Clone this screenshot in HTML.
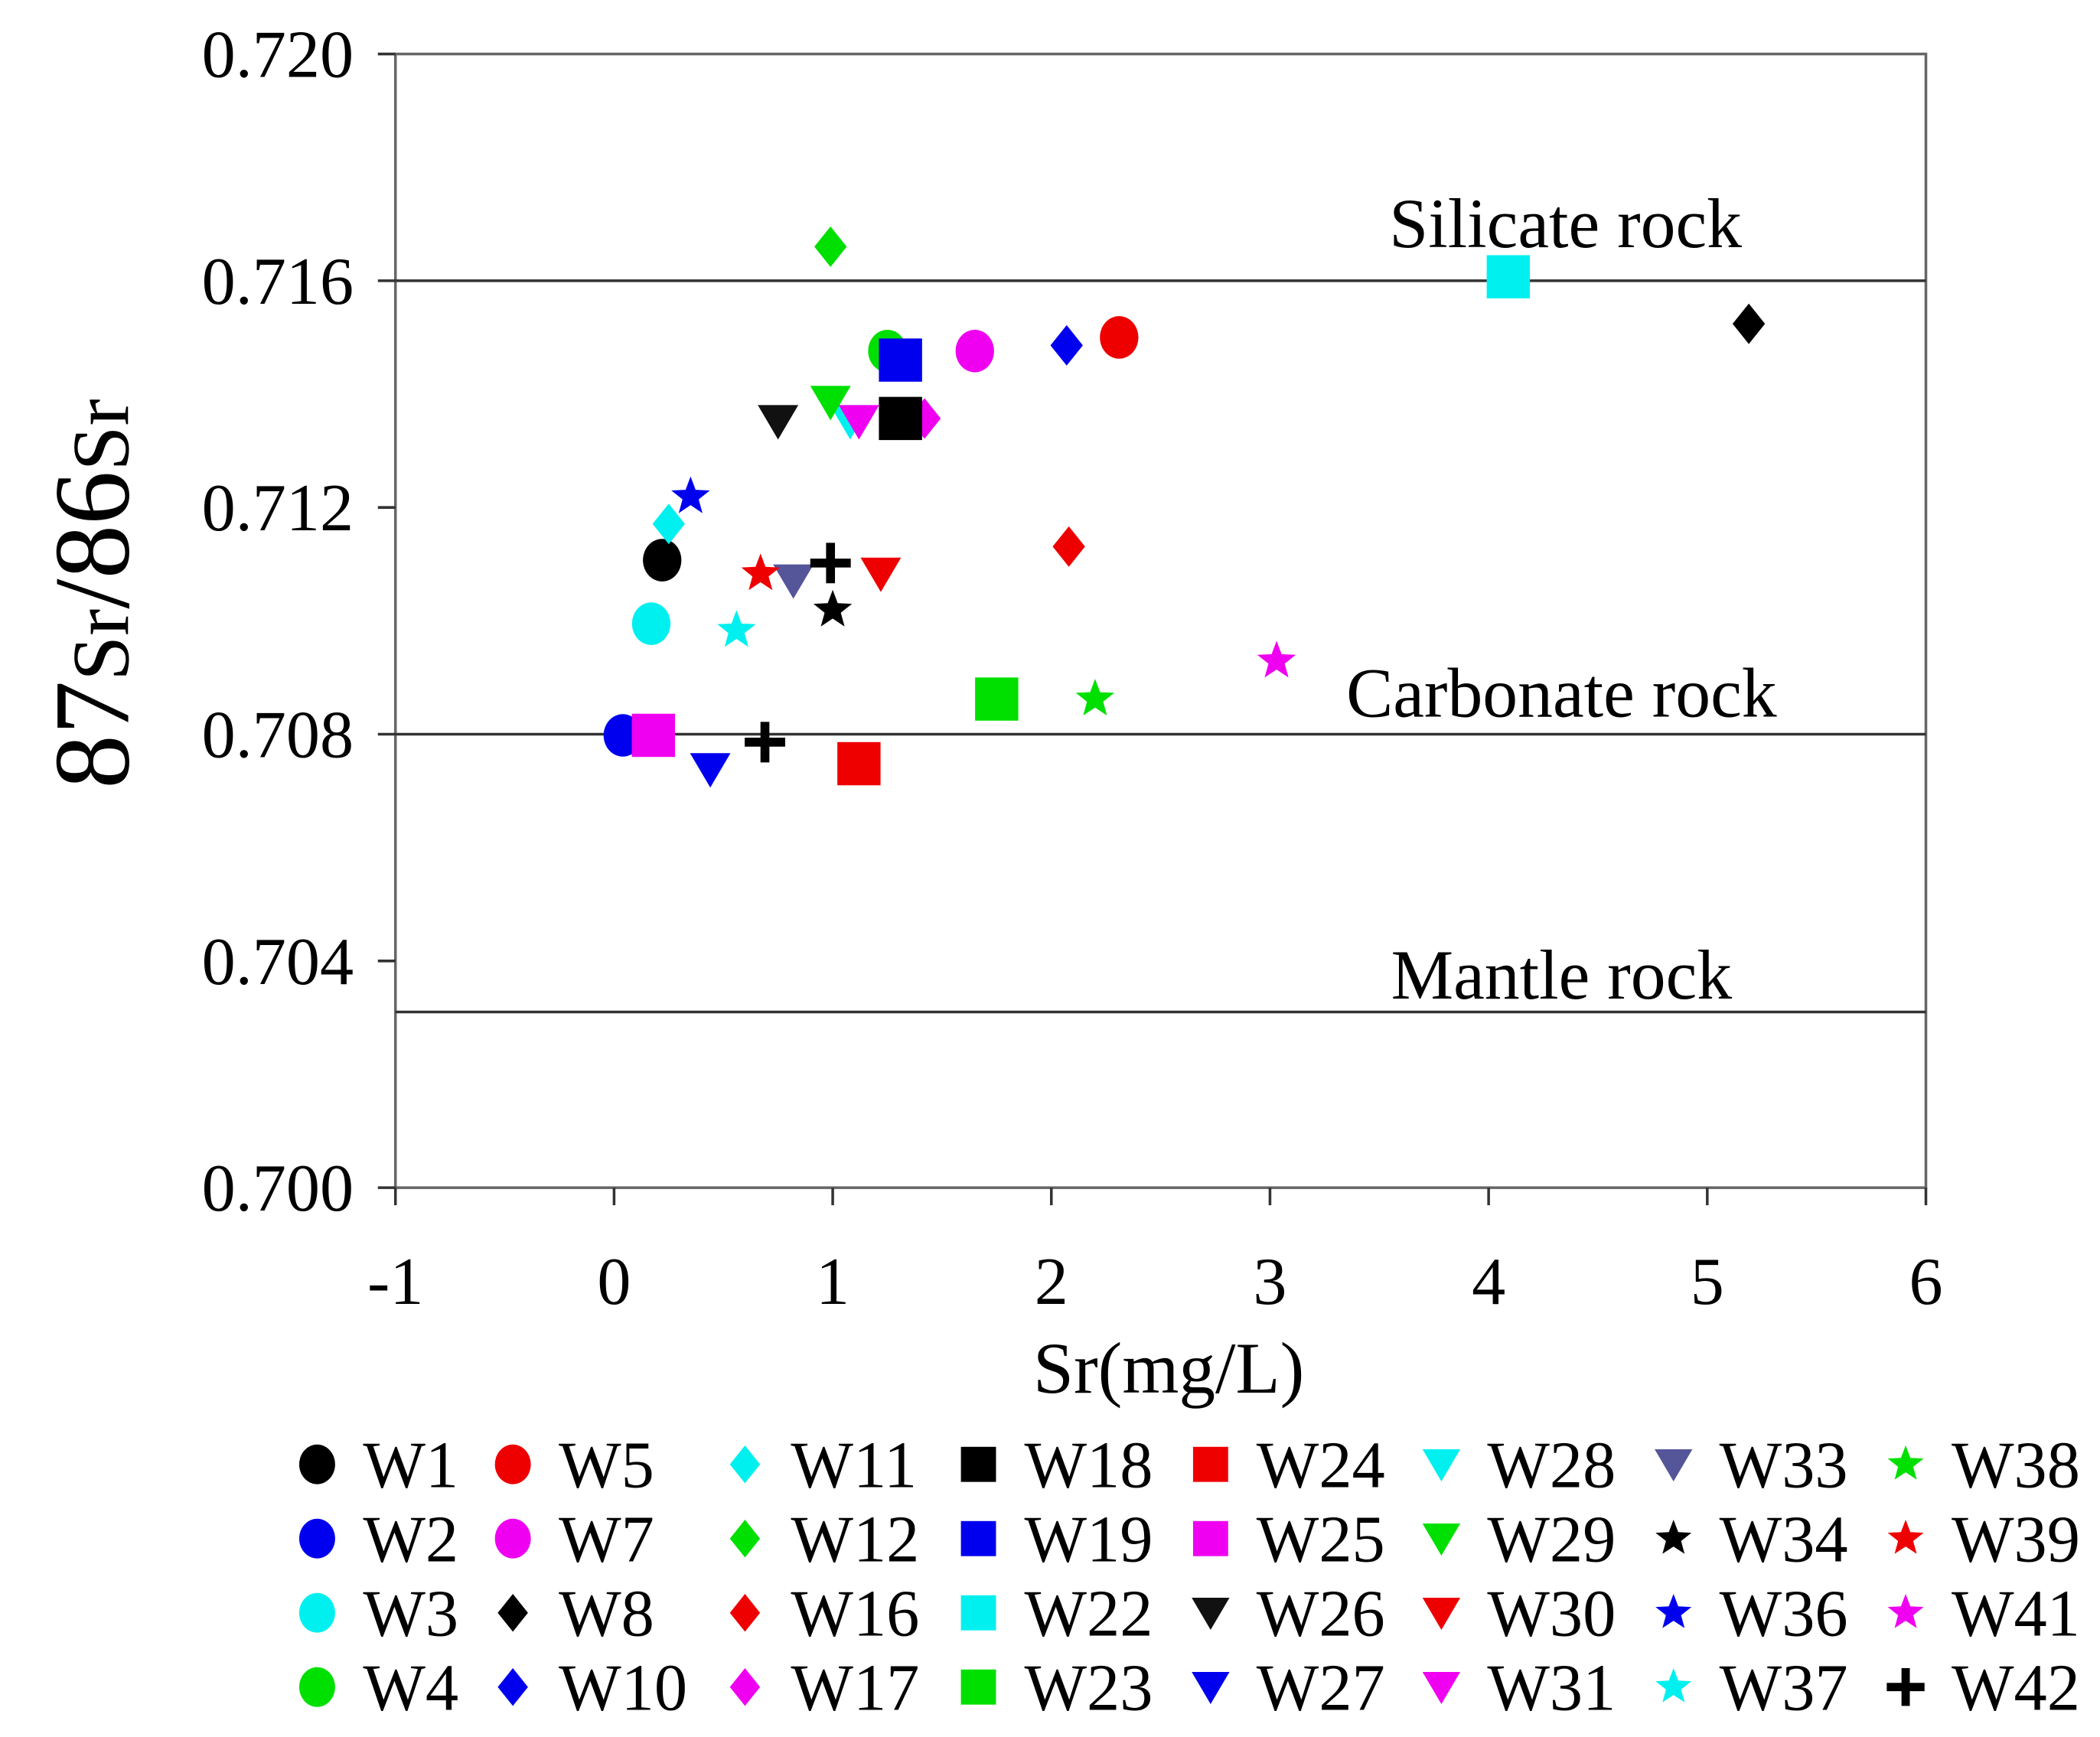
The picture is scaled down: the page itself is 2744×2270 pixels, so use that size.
<!DOCTYPE html>
<html><head><meta charset="utf-8"><style>
html,body{margin:0;padding:0;background:#fff;}
svg{display:block;font-family:"Liberation Serif",serif;}
</style></head><body>
<svg id="chart" width="2744" height="2270" viewBox="0 0 1556 1287" preserveAspectRatio="none" xmlns="http://www.w3.org/2000/svg">
<g id="axes"></g>
<g id="marks"></g>
<g id="legend"></g>
</svg>
<script>
const xTicks = [-1,0,1,2,3,4,5,6];
const yTicks = [0.700,0.704,0.708,0.712,0.716,0.720];
const yTickLabels = ["0.700","0.704","0.708","0.712","0.716","0.720"];
const refValues = [0.716,0.708,0.7031];
const refLabels = ["Silicate rock","Carbonate rock","Mantle rock"];
const seriesNames = ["W1","W2","W3","W4","W5","W7","W8","W10","W11","W12","W16","W17","W18","W19","W22","W23","W24","W25","W26","W27","W28","W29","W30","W31","W33","W34","W36","W37","W38","W39","W41","W42","W42"];
const seriesX = [0.22,0.04,0.17,1.25,2.31,1.65,5.19,2.07,0.25,0.99,2.08,1.42,1.31,1.31,4.09,1.75,1.12,0.18,0.75,0.44,1.08,0.99,1.22,1.12,0.82,1.00,0.35,0.56,2.20,0.67,3.03,0.69,0.99];
const seriesY = [0.71107,0.70798,0.70995,0.71476,0.7150,0.71476,0.71524,0.71486,0.71171,0.71660,0.71131,0.71357,0.71357,0.71460,0.71607,0.70862,0.70748,0.70798,0.71352,0.70738,0.71352,0.71386,0.71083,0.71352,0.71071,0.71019,0.71219,0.70983,0.70862,0.71083,0.70929,0.70786,0.71102];
const seriesShape = ["circle","circle","circle","circle","circle","circle","diamond","diamond","diamond","diamond","diamond","diamond","square","square","square","square","square","square","tri","tri","tri","tri","tri","tri","tri","star","star","star","star","star","star","cross","cross"];
const seriesColor = ["#000","#0000ee","#00f0f0","#00e000","#ee0000","#f000f0","#000","#0000ee","#00f0f0","#00e000","#ee0000","#f000f0","#000","#0000ee","#00f0f0","#00e000","#ee0000","#f000f0","#111","#0000ee","#00f0f0","#00e000","#ee0000","#f000f0","#555599","#000","#0000ee","#00f0f0","#00e000","#ee0000","#f000f0","#000","#000"];
const legendNames = ["W1","W2","W3","W4","W5","W7","W8","W10","W11","W12","W16","W17","W18","W19","W22","W23","W24","W25","W26","W27","W28","W29","W30","W31","W33","W34","W36","W37","W38","W39","W41","W42"];

const NS="http://www.w3.org/2000/svg";
const L=293,R=1427,T=40,B=880;
const xs=v=>L+(v+1)/7*(R-L);
const ys=v=>B-(v-0.700)/0.020*(B-T);
function el(tag,attrs,parent,text){const e=document.createElementNS(NS,tag);for(const k in attrs)e.setAttribute(k,attrs[k]);if(text!==undefined)e.textContent=text;parent.appendChild(e);return e;}
function shape(type,cx,cy,s,color,parent){
  const h=s/2;
  if(type==="circle")return el("ellipse",{cx:cx,cy:cy,rx:h*0.95,ry:h*1.05,fill:color},parent);
  if(type==="square")return el("rect",{x:cx-h,y:cy-h,width:s,height:s,fill:color},parent);
  if(type==="diamond")return el("polygon",{points:`${cx},${cy-h} ${cx+h*0.8},${cy} ${cx},${cy+h} ${cx-h*0.8},${cy}`,fill:color},parent);
  if(type==="tri")return el("polygon",{points:`${cx-h},${cy-h*0.8} ${cx+h},${cy-h*0.8} ${cx},${cy+h*0.9}`,fill:color},parent);
  if(type==="star"){let p=[];for(let i=0;i<10;i++){const r=i%2?h*0.42:h;const a=-Math.PI/2+i*Math.PI/5;p.push((cx+r*Math.cos(a)).toFixed(1)+","+(cy+r*Math.sin(a)).toFixed(1));}return el("polygon",{points:p.join(" "),fill:color},parent);}
  if(type==="cross"){const w=s*0.22;return el("path",{d:`M${cx-w/2},${cy-h}h${w}v${h-w/2}h${h-w/2}v${w}h${-(h-w/2)}v${h-w/2}h${-w}v${-(h-w/2)}h${-(h-w/2)}v${-w}h${h-w/2}z`,fill:color},parent);}
}
const ax=document.getElementById("axes");
const frame=el("rect",{x:L,y:T,width:R-L,height:B-T,fill:"none",stroke:"#666",'stroke-width':2},ax);


yTicks.forEach((v,i)=>{
  const t=el("line",{x1:L-13,x2:L,y1:ys(v),y2:ys(v),stroke:"#333",'stroke-width':2},ax);
  
  
  const lb=el("text",{x:262,y:ys(v)+17,'text-anchor':"end",'font-size':50,fill:"#000"},ax,yTickLabels[i]);
  
  
});
xTicks.forEach(v=>{
  const t=el("line",{x1:xs(v),x2:xs(v),y1:B,y2:B+13,stroke:"#333",'stroke-width':2},ax);
  
  
  const lb=el("text",{x:xs(v),y:966,'text-anchor':"middle",'font-size':50,fill:"#000"},ax,String(v));
  
  
});
const refLabelPos=[[1160,183],[1157,531],[1157,740]];
refValues.forEach((v,i)=>{
  const ln=el("line",{x1:L,x2:R,y1:ys(v),y2:ys(v),stroke:"#333",'stroke-width':2},ax);
  
  
  const t=el("text",{x:refLabelPos[i][0],y:refLabelPos[i][1],'text-anchor':"middle",'font-size':52,fill:"#000"},ax,refLabels[i]);
  
  
});
const xt=el("text",{x:866,y:1032,'text-anchor':"middle",'font-size':54,fill:"#000"},ax,"Sr(mg/L)");


const yt=el("text",{transform:"translate(95,440) rotate(-90)",'text-anchor':"middle",'font-size':80,fill:"#000"},ax);


yt.innerHTML='87<tspan font-size="60">Sr</tspan><tspan font-size="80">/86</tspan><tspan font-size="60">Sr</tspan>';

const mk=document.getElementById("marks");
seriesX.forEach((xv,i)=>{
  const s=shape(seriesShape[i],xs(xv),ys(seriesY[i]),seriesShape[i]==="square"?32:30,seriesColor[i],mk);
  
  
});

const lg=document.getElementById("legend");
const colMarker=[235,380,552,725,897,1068,1240,1412];
const rowY=[1085,1140,1195,1250];
legendNames.forEach((n,i)=>{
  const c=Math.floor(i/4),r=i%4;
  const idx=seriesNames.indexOf(n);
  const g=el("g",{},lg);
  
  
  shape(seriesShape[idx],colMarker[c],rowY[r],seriesShape[idx]==="square"?26:28,seriesColor[idx],g);
  el("text",{x:colMarker[c]+34,y:rowY[r]+17,'font-size':49,fill:"#000"},g,n);
});
</script>
</body></html>
